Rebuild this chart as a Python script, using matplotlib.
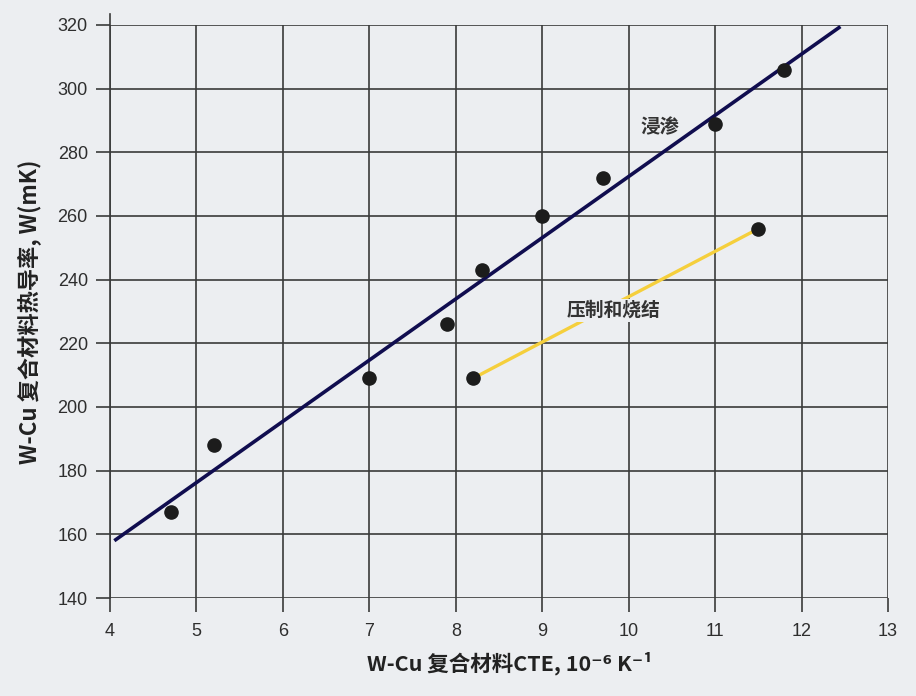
import matplotlib.pyplot as plt

plt.rcParams['font.family'] = ['Liberation Sans', 'DejaVu Sans']

# infiltration (浸渗) samples
infil_cte = [4.7, 5.2, 7.0, 7.9, 8.3, 9.0, 9.7, 11.0, 11.8]
infil_k = [167, 188, 209, 226, 243, 260, 272, 289, 306]
# trend line for infiltration
fit_cte = [4.05, 12.45]
fit_k = [158, 319.5]

# press & sinter (压制和烧结) samples
ps_cte = [8.2, 11.5]
ps_k = [209, 256]

xticks = [4, 5, 6, 7, 8, 9, 10, 11, 12, 13]
yticks = [140, 160, 180, 200, 220, 240, 260, 280, 300, 320]

BG = "#eceef1"
GRID = "#3a3a3a"
CJK = ['Noto Sans CJK SC', 'DejaVu Sans']

fig = plt.figure(figsize=(9.16, 6.96), dpi=100, facecolor=BG)
ax = fig.add_axes([0.1201, 0.1408, 0.8493, 0.8233], facecolor=BG)

ax.set_xlim(4, 13)
ax.set_ylim(140, 320)
ax.set_xticks(xticks)
ax.set_yticks(yticks)
ax.grid(True, color=GRID, linewidth=1.2, zorder=0)
ax.set_axisbelow(True)

for side in ["top", "right", "bottom"]:
    ax.spines[side].set_visible(False)
ax.spines["left"].set_color(GRID)
ax.spines["left"].set_linewidth(1.2)
ax.spines["left"].set_bounds(140, 323.3)

ax.tick_params(axis="both", length=10, width=1.2, color=GRID,
               labelsize=13, labelcolor="#2e2e2e")
ax.tick_params(axis="x", pad=8)
ax.tick_params(axis="y", pad=6)

ax.plot(fit_cte, fit_k, color="#100d4f", linewidth=2.6, zorder=3,
        solid_capstyle="butt", clip_on=False)
ax.plot(ps_cte, ps_k, color="#f5cf3c", linewidth=2.4, zorder=3)
ax.scatter(infil_cte, infil_k, s=90, color="#1c1c1c", zorder=4)
ax.scatter(ps_cte, ps_k, s=90, color="#1c1c1c", zorder=4)

ax.text(10.36, 287.6, "浸渗", family=CJK, fontsize=14, fontweight=600,
        color="#333333", ha="center", va="center")
ax.text(9.83, 230.4, "压制和烧结", family=CJK, fontsize=13.5, fontweight=600,
        color="#333333", ha="center", va="center", zorder=5,
        bbox=dict(facecolor=BG, edgecolor="none", pad=1.5))

ax.set_xlabel("W-Cu 复合材料CTE, 10⁻⁶ K⁻¹", family=CJK, fontsize=15.5,
              fontweight=600, color="#222222", labelpad=8)
ax.xaxis.label.set_x(0.514)
ax.set_ylabel("W-Cu 复合材料热导率, W(mK)", family=CJK, fontsize=16,
              fontweight=600, color="#222222", labelpad=12)

fig.savefig("out.png", dpi=100, facecolor=BG)
